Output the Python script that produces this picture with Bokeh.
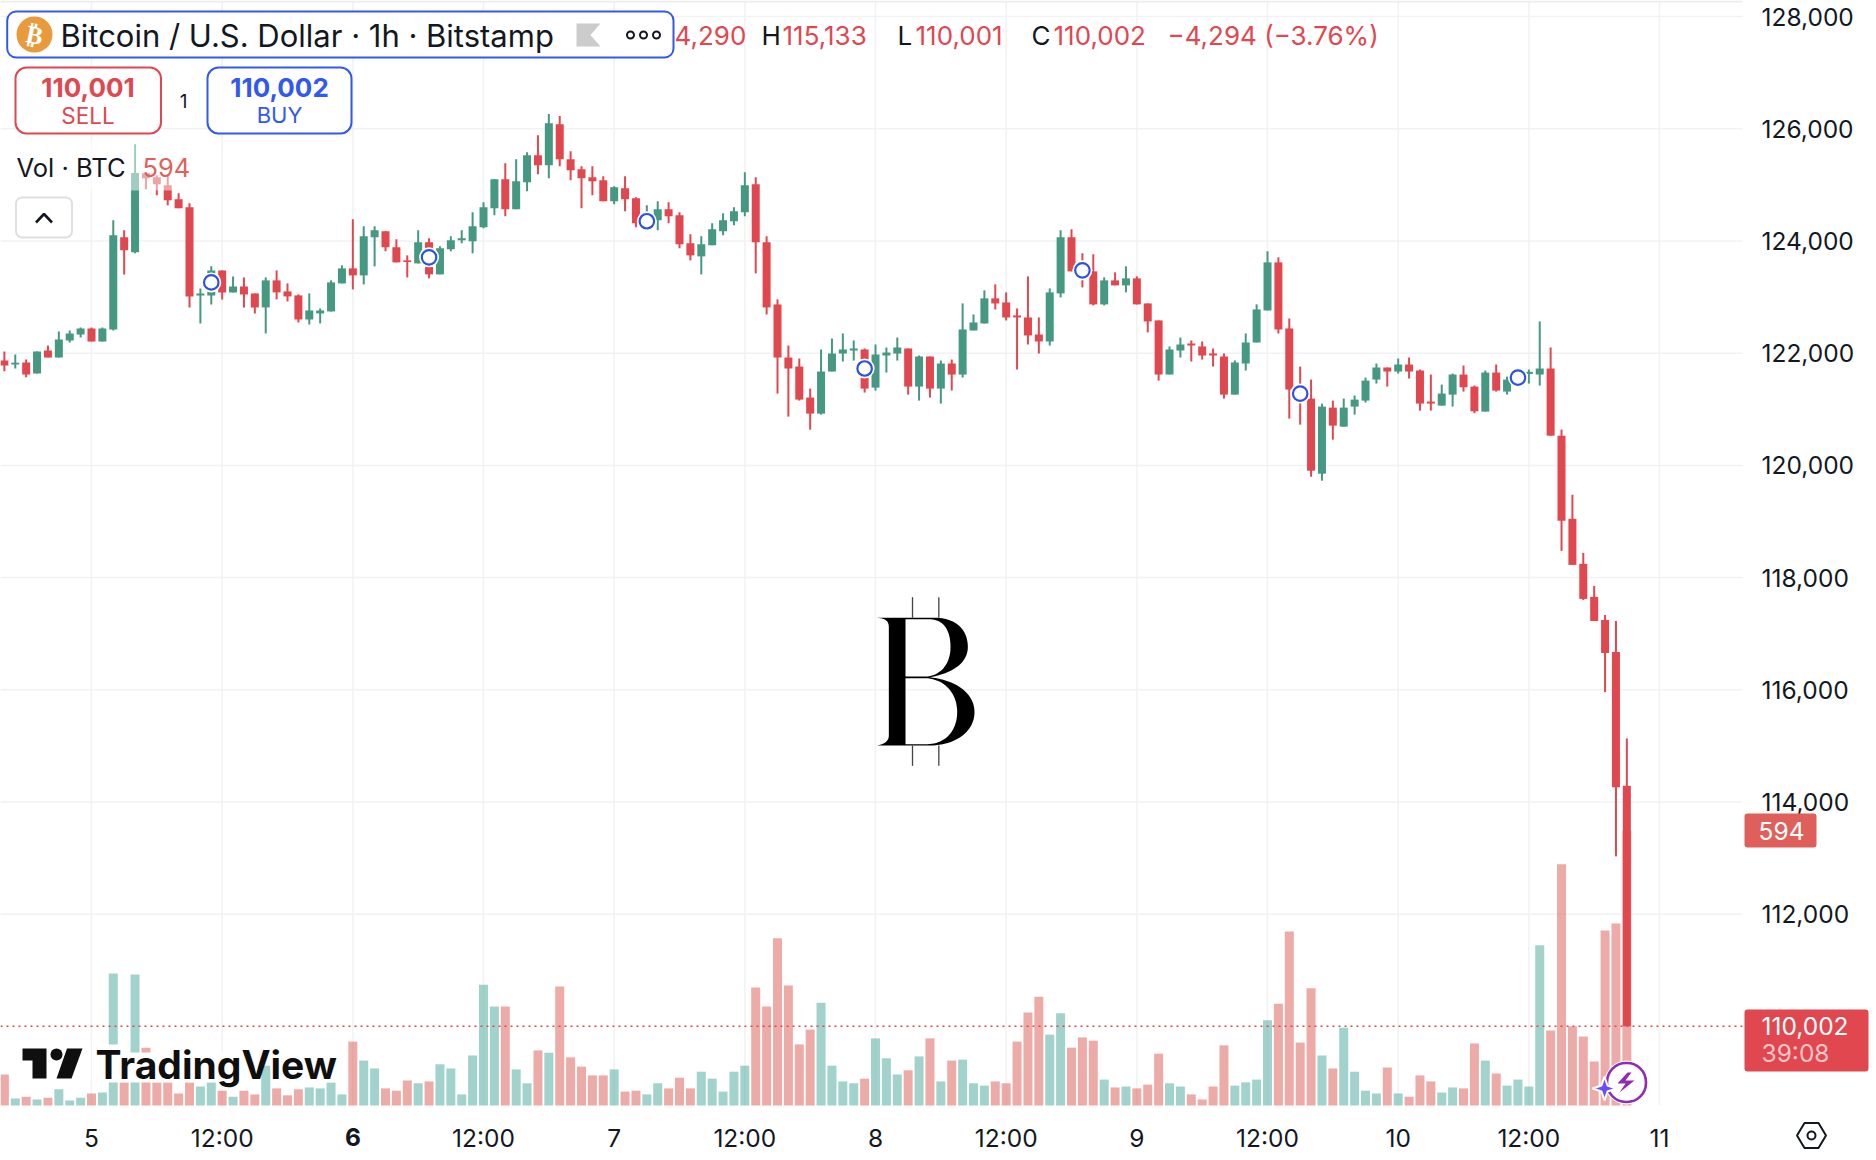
from bokeh.plotting import figure
from bokeh.models import (Range1d, LinearAxis, FixedTicker, NumeralTickFormatter, Label,
                          BoxAnnotation, PolyAnnotation)
from bokeh.embed import file_html
from bokeh.resources import INLINE
import numpy as np

# ---- data -------------------------------------------------------------
first_hour = -8  # hours since the 5th 00:00
opens = [121869,121798,121834,121637,122048,121923,122227,122334,122441,122209,122423,124066,123798,125209,125137,124994,124744,124601,123030,123030,123476,123084,123191,123066,122816,123298,123102,123030,122601,122709,122744,123244,123512,123387,124066,124173,123887,123655,123601,123976,123405,123851,124012,123994,124244,124584,125101,124566,125048,125530,125351,126083,125458,125280,125137,125084,124709,124941,124762,124280,124369,124566,124459,123959,123726,123923,124173,124351,124512,125012,123976,122869,121923,121762,121209,120923,121673,121994,122048,122066,121387,121959,121994,122084,121405,121941,121369,121816,121619,122405,122530,122977,122905,122673,122637,122334,122209,123066,124066,123566,123459,122870,123298,123209,123334,122887,122584,121620,122048,122173,122120,121995,121941,121262,121816,122191,122762,123619,122441,121393,121191,119852,121030,120691,121048,121155,121530,121745,121673,121798,121691,121138,121066,121262,121619,121405,120959,121655,121316,121512,121631,121620,121727,120530,119048,118245,117656,117245,116673,114290]
highs = [122030,121977,121887,122030,122137,122387,122405,122459,122459,122459,124369,124191,125726,125209,125173,125173,124851,124673,123155,123548,123476,123369,123351,123066,123351,123476,123244,123048,123066,122798,123298,123566,124387,124262,124262,124173,124030,123744,124191,124048,123905,124084,124191,124512,124691,125101,125387,125458,125583,125887,126262,126226,125601,125333,125333,125155,124976,125155,124780,124637,124709,124691,124512,124119,124084,124316,124494,124601,125226,125137,124084,122959,122137,121905,121369,122066,122262,122352,122227,122084,122155,122102,122280,122084,121959,121941,121869,121887,122887,122691,123120,123227,123084,122798,123369,122637,123155,124191,124209,123780,123762,123352,123441,123548,123369,122887,122584,122120,122280,122227,122209,122084,121995,121870,122352,122870,123816,123709,122620,121762,121530,121102,121155,121191,121245,121566,121816,121745,121905,121923,121709,121620,121441,121637,121780,121423,121691,121798,121584,121661,121709,122566,122102,120638,119477,118441,117852,117334,117227,115133]
lows = [121679,121727,121572,121637,121923,121923,122191,122280,122209,122209,122405,123405,123780,124923,124816,124637,124584,122816,122530,122869,122959,123084,122816,122709,122352,122959,122923,122548,122512,122530,122744,123244,123137,123226,123548,123816,123619,123351,123601,123334,123405,123816,123959,123780,124226,124459,124441,124566,124887,125191,125119,125333,125084,124584,124816,124709,124655,124530,124244,124250,124191,124316,123869,123655,123405,123923,124101,124280,124441,123423,122691,121280,120869,121155,120637,120905,121673,121852,121869,121298,121334,121655,121869,121262,121155,121209,121102,121334,121566,122405,122530,122780,122584,121709,122155,121995,122137,122995,123459,123173,122852,122852,123209,123084,122870,122370,121512,121620,121923,121852,121887,121762,121191,121262,121691,122191,122762,122352,120834,120727,119798,119727,120459,120691,120905,121120,121459,121405,121637,121548,120977,120977,121066,121048,121316,120930,120959,121316,121263,121453,121459,121423,120530,118477,118227,117602,117227,115959,113031,110001]
closes = [121780,121828,121619,122030,121923,122244,122352,122441,122209,122441,124101,123834,125214,125119,125012,124726,124584,123012,123066,123476,123084,123191,123048,122816,123298,123084,123012,122601,122762,122762,123262,123512,123387,124084,124191,123887,123619,123625,123976,123405,123869,124012,124048,124262,124601,125101,124566,125066,125530,125351,126101,125458,125262,125119,125066,124709,124959,124744,124316,124459,124566,124441,123941,123744,123941,124209,124369,124530,124994,123976,122816,121923,121727,121173,120923,121673,121994,122066,122084,121369,121977,122012,122102,121405,121941,121369,121816,121619,122423,122548,122977,122887,122637,122637,122316,122209,123084,124066,123459,123387,122870,123298,123209,123334,122870,122566,121620,122066,122155,122137,121959,121959,121262,121834,122191,122780,123619,122423,121352,121155,119905,121048,120709,121030,121173,121512,121745,121673,121798,121673,121102,121102,121280,121620,121393,120965,121655,121334,121530,121631,121667,121727,120530,119013,118227,117620,117227,116656,114263,110002]
volumes = [67,15,19,13,17,35,11,17,26,28,285,50,283,125,50,50,26,50,41,50,32,19,32,24,86,37,22,35,39,37,50,24,138,97,80,37,32,54,48,52,89,80,24,108,261,214,214,78,48,119,114,257,104,84,65,65,78,30,32,24,48,37,60,37,73,58,30,73,86,255,214,361,259,132,164,222,86,52,48,58,145,102,67,76,106,145,52,97,99,48,43,52,48,138,201,235,153,199,125,147,140,56,39,41,37,45,112,48,41,24,13,41,130,43,50,56,184,220,376,136,253,108,80,168,73,32,26,82,26,19,65,52,28,39,37,134,97,69,43,56,41,346,162,521,171,149,95,378,393,594]
event_hours = [11, 31, 51, 71, 91, 111, 131]
event_prices = [123262, 123709, 124352, 121727, 123477, 121280, 121566]
price_ticks = [112000, 114000, 116000, 118000, 120000, 122000, 124000, 126000, 128000]
time_ticks = [0, 12, 24, 36, 48, 60, 72, 84, 96, 108, 120, 132, 144]
time_labels = ["5", "12:00", "6", "12:00", "7", "12:00", "8", "12:00", "9", "12:00", "10", "12:00", "11"]
last_price = 110002
last_volume = 594

# ---- layout ------------------------------------------------------------
W, H = 1876, 1160      # whole canvas is the frame
FW, FH = 1742, 1105    # chart pane inside it
PX_H = 10.889
PX_USD = 0.0561
PX_VOL = 0.463
FONT = "Inter"
AXIS_SIZE = 24.5
RED, GREEN = "#E0474F", "#459881"
VRED, VGREEN = "#D9574F", "#45A599"
BLUE = "#3159F0"
INK = "#131722"

def X(px):
    return (px - 91) / PX_H

def Y(py):
    return 122000 - (py - 352.7) / PX_USD

p = figure(frame_width=W, frame_height=H, output_backend="svg", toolbar_location=None,
           x_range=Range1d(X(0), X(W)), y_range=Range1d(Y(H), Y(0)),
           x_axis_location=None, y_axis_location=None,
           min_border_left=0, min_border_top=0, min_border_right=0, min_border_bottom=0,
           outline_line_color=None, background_fill_color="white", border_fill_color="white")
p.extra_y_ranges = {"vol": Range1d((FH - H) / PX_VOL, FH / PX_VOL)}

# the price and time axes sit in the side panels, their labels pulled back over the canvas
yax = LinearAxis(ticker=FixedTicker(ticks=price_ticks), formatter=NumeralTickFormatter(format="0,0"))
xax = LinearAxis(ticker=FixedTicker(ticks=time_ticks),
                 major_label_overrides={t: ("" if t == 24 else s) for t, s in zip(time_ticks, time_labels)})
for ax, standoff in ((yax, -115), (xax, -38)):
    ax.axis_line_color = None
    ax.major_tick_line_color = None
    ax.minor_tick_line_color = None
    ax.major_tick_out = 0
    ax.major_tick_in = 0
    ax.minor_tick_out = 0
    ax.major_label_text_font = FONT
    ax.major_label_text_font_size = f"{AXIS_SIZE}px"
    ax.major_label_text_color = INK
    ax.major_label_standoff = standoff
p.add_layout(yax, "right")
p.add_layout(xax, "below")

p.xgrid.visible = False
p.ygrid.visible = False
p.segment(x0=time_ticks, x1=time_ticks, y0=[Y(FH)] * len(time_ticks), y1=[Y(0)] * len(time_ticks),
          line_color="#F1F2F3", line_width=1.5, level="underlay")
p.segment(x0=[X(0)] * len(price_ticks), x1=[X(FW)] * len(price_ticks), y0=price_ticks, y1=price_ticks,
          line_color="#F1F2F3", line_width=1.5, level="underlay")

hours = [first_hour + i for i in range(len(opens))]
up = [c >= o for o, c in zip(opens, closes)]

# ---- watermark (bitcoin mark) ------------------------------------------
def bez(a, b, c, d, n=24):
    t = np.linspace(0, 1, n)[:, None]
    a, b, c, d = map(np.array, (a, b, c, d))
    return ((1 - t) ** 3 * a + 3 * (1 - t) ** 2 * t * b + 3 * (1 - t) * t ** 2 * c + t ** 3 * d).tolist()

def wm(pts):
    xs = [X(850 + q[0] / 3) for q in pts]
    ys = [Y(580 + q[1] / 3) for q in pts]
    return xs, ys

outer = ([(80, 112), (260, 112)] + bez((260, 112), (320, 115), (352, 150), (352, 200))
         + bez((352, 200), (352, 250), (300, 280), (238, 290))
         + bez((238, 290), (320, 300), (372, 340), (372, 395))
         + bez((372, 395), (372, 450), (320, 495), (235, 495))
         + [(80, 495)] + bez((80, 495), (105, 490), (115, 480), (115, 465))
         + [(115, 140)] + bez((115, 140), (115, 122), (105, 114), (80, 112)))
hole1 = ([(165, 116), (235, 116)] + bez((235, 116), (280, 116), (300, 150), (300, 200))
         + bez((300, 200), (300, 250), (270, 287), (225, 288)) + [(165, 288)])
hole2 = ([(165, 293), (225, 293)] + bez((225, 293), (285, 296), (320, 340), (320, 395))
         + bez((320, 395), (320, 450), (285, 491), (230, 491)) + [(165, 491)])
ox, oy = wm(outer)
h1x, h1y = wm(hole1)
h2x, h2y = wm(hole2)
p.multi_polygons(xs=[[[ox, h1x, h2x]]], ys=[[[oy, h1y, h2y]]], fill_color="black", line_color=None)
for zx in (186, 265):
    for z0, z1 in ((50, 112), (495, 556)):
        sx, sy = wm([(zx, z0), (zx, z1)])
        p.line(sx, sy, line_color="#444444", line_width=1.3)

# ---- volume ------------------------------------------------------------
p.vbar(x=hours, top=volumes, bottom=0, width=9 / PX_H, y_range_name="vol",
       fill_color=[VGREEN if u else VRED for u in up], fill_alpha=0.5, line_color=None)

# ---- last price line ---------------------------------------------------
p.segment(x0=[X(0)], x1=[X(FW)], y0=[last_price], y1=[last_price], line_color=RED, line_width=1.6, line_dash="2 4")

# ---- candles -----------------------------------------------------------
colors = [GREEN if u else RED for u in up]
p.segment(x0=hours, x1=hours, y0=lows, y1=highs, line_color=colors, line_width=2)
p.vbar(x=hours, top=[max(a, b) for a, b in zip(opens, closes)], bottom=[min(a, b) for a, b in zip(opens, closes)],
       width=8 / PX_H, fill_color=colors, line_color=None)

# ---- event markers -----------------------------------------------------
p.scatter(event_hours, event_prices, marker="circle", size=20, fill_color="white", line_color=None)
p.scatter(event_hours, event_prices, marker="circle", size=14.5, fill_color="white", line_color="#2B52E0", line_width=2.2)

# ---- helpers for page furniture (screen units, y measured up from the frame bottom) ----
def box(x0, y0, x1, y1, fill="white", line=None, lw=2, r=0, alpha=1.0):
    b = BoxAnnotation(left=x0, right=x1, top=H - y0, bottom=H - y1,
                      left_units="screen", right_units="screen", top_units="screen", bottom_units="screen",
                      fill_color=fill, fill_alpha=alpha,
                      line_color=line, line_width=lw, line_alpha=1.0 if line else 0, border_radius=int(round(r)),
                      editable=False)
    p.add_layout(b)

def txt(text, x, y, size, color=INK, align="left", style="normal", alpha=1.0, angle=0, font=FONT, base="middle"):
    p.add_layout(Label(x=x, y=H - y, x_units="screen", y_units="screen", text=text, text_font=font,
                       text_font_size=f"{size}px", text_color=color,
                       text_align=align, text_baseline=base, text_font_style=style, text_alpha=alpha, angle=angle))

def poly(pts, fill, line=None, lw=1, alpha=1.0):
    p.add_layout(PolyAnnotation(xs=[q[0] for q in pts], ys=[H - q[1] for q in pts], xs_units="screen", ys_units="screen",
                                fill_color=fill, fill_alpha=alpha,
                                line_color=line, line_width=lw, line_alpha=1.0 if line else 0))

# top rule
box(0, 0, FW, 2, fill="#EDEDED")

# fade behind the volume legend
box(0, 140, 205, 190, alpha=0.5)

# header
box(6.7, 11, 673, 57, fill="white", line=BLUE, lw=2, r=9)
box(16, 16, 52, 52, fill="#E99A3A", r=18)
txt("₿", 34, 34.5, 25, color="white", align="center", style="bold", angle=-0.2, font="DejaVu Sans")
txt("Bitcoin / U.S. Dollar · 1h · Bitstamp", 60, 34.5, 31)
poly([(576, 23), (600, 23), (590, 34.5), (600, 46), (576, 46)], "#CCCCCC")
for cx in (630, 643, 656):
    box(cx - 3.5, 31, cx + 3.5, 38, fill="white", line=INK, lw=2, r=3.5)

# OHLC line
for s, x, c in (("4,290", 674, RED), ("H", 761, INK), ("115,133", 782, RED), ("L", 897, INK), ("110,001", 915, RED),
                ("C", 1031, INK), ("110,002", 1053, RED), ("−4,294 (−3.76%)", 1167, RED)):
    txt(s, x, 35, 26, color=c)

# sell/buy
box(15, 67, 160.5, 133, fill="white", line=RED, lw=2, r=11)
txt("110,001", 87.5, 87, 26, color=RED, align="center", style="bold")
txt("SELL", 87.5, 114.5, 22.5, color=RED, align="center")
txt("1", 183, 100, 19, align="center")
box(207, 67, 351, 133, fill="white", line=BLUE, lw=2, r=11)
txt("110,002", 279, 87, 26, color=BLUE, align="center", style="bold")
txt("BUY", 279, 114.5, 22, color=BLUE, align="center")

# volume legend
txt("Vol · BTC", 16, 167, 25.5)
txt("594", 142, 167, 25.5, color="#E0605C")
box(15.5, 197, 71.5, 237, fill=None, line="#E0E0E0", lw=2, r=6)
p.line([X(35.5), X(43.5), X(51.5)], [Y(222), Y(213.5), Y(222)], line_color=INK, line_width=2.6)

# TradingView logo
box(16, 1044, 88, 1082)
box(92, 1044, 123, 1082)
box(123, 1052, 258, 1082)
box(272, 1046, 340, 1082)
poly([(22, 1048), (46, 1048), (46, 1078), (32, 1078), (32, 1060), (22, 1060)], "#0F0F0F")
box(50, 1048, 62, 1060, fill="#0F0F0F", r=6)
poly([(66.5, 1048), (82, 1048), (71, 1078), (56, 1078)], "#0F0F0F")
txt("TradingView", 95, 1064, 39, color="#0F0F0F", style="bold")

# price labels on the axis
box(1744, 813, 1816, 847, fill="#DF5F5A", r=3)
txt("594", 1781, 830, AXIS_SIZE, color="white", align="center")
box(1744, 1009, 1868, 1071, fill=RED, r=3)
txt("110,002", 1761, 1025, AXIS_SIZE, color="white")
txt("39:08", 1761, 1052, AXIS_SIZE, color="white", alpha=0.7)

# bold date label
txt("6", 91 + 24 * PX_H, 1136, AXIS_SIZE, align="center", style="bold")

# settings hexagon
poly([(1796.5, 1135), (1804, 1122.5), (1818, 1122.5), (1825.5, 1135), (1818, 1147.5), (1804, 1147.5)], None, line=INK, lw=2)
box(1807, 1131, 1815, 1139, fill="white", line=INK, lw=2, r=4)

# lightning badge
box(1604, 1060, 1648, 1104, fill="white", r=22)
box(1606.5, 1062.5, 1645.5, 1101.5, fill="white", line="#8E2DB0", lw=2.6, r=19)
poly([(1627, 1072), (1617, 1083), (1625, 1083), (1619, 1092), (1634, 1080), (1625, 1080), (1631, 1072)], "#8E2DB0")
poly([(1604, 1076), (1607, 1085), (1616, 1088), (1607, 1091), (1604, 1100), (1601, 1091), (1592, 1088), (1601, 1085)],
     "#6B4DFF", line="white", lw=2)

open("out.html", "w").write(file_html(p, INLINE))
